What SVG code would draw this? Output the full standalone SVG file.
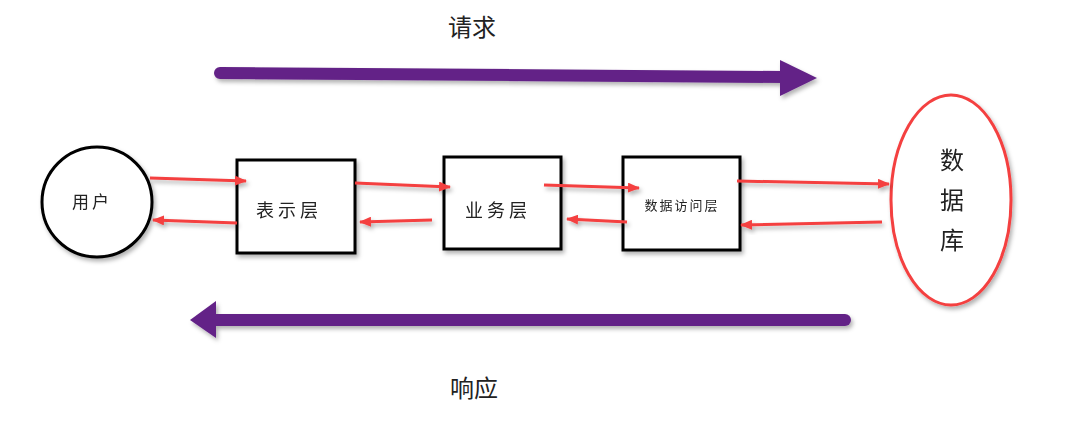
<svg xmlns="http://www.w3.org/2000/svg" width="1076" height="447" viewBox="0 0 1076 447">
<style>
.t{font-family:"Noto Sans CJK SC","Noto Sans",sans-serif;fill:#222;text-anchor:middle}
.box{fill:#fff;stroke:#000;stroke-width:3}
.red{stroke:#f44040;stroke-width:3;fill:none;marker-end:url(#rh)}
.pl{stroke:#632287;stroke-width:12;stroke-linecap:round;fill:none}
</style>
<defs>
<filter id="sh" x="-20%" y="-20%" width="140%" height="140%">
<feDropShadow dx="2" dy="3" stdDeviation="2" flood-color="#000" flood-opacity="0.3"/>
</filter>
<marker id="rh" markerWidth="12" markerHeight="10" refX="11" refY="5" orient="auto" markerUnits="userSpaceOnUse">
<path d="M0,0 L12,5 L0,10 z" fill="#f44040"/>
</marker>
</defs>
<rect width="1076" height="447" fill="#fff"/>
<text class="t" x="472" y="36" font-size="24">请求</text>
<text class="t" x="474" y="397" font-size="24">响应</text>
<g id="arrow-request" filter="url(#sh)">
<path class="pl" d="M220,73 L785,77"/>
<path d="M780,60 L817,78 L780,96 z" fill="#632287"/>
</g>
<g id="arrow-response" filter="url(#sh)">
<path class="pl" d="M845,320 L212,320"/>
<path d="M216,301 L190,320 L216,338 z" fill="#632287"/>
</g>
<g id="user" filter="url(#sh)">
<circle cx="97" cy="202" r="55" fill="#fff" stroke="#000" stroke-width="3"/>
<text class="t" x="92" y="208" font-size="17" letter-spacing="3">用户</text>
</g>
<g id="presentation" filter="url(#sh)">
<rect class="box" x="237" y="160" width="118" height="93"/>
<text class="t" x="289" y="217" font-size="18" letter-spacing="4">表示层</text>
</g>
<g id="business" filter="url(#sh)">
<rect class="box" x="444" y="157" width="117" height="92"/>
<text class="t" x="498" y="217" font-size="18" letter-spacing="4">业务层</text>
</g>
<g id="dal" filter="url(#sh)">
<rect class="box" x="623" y="157" width="117" height="93"/>
<text class="t" x="682" y="210" font-size="13" letter-spacing="2">数据访问层</text>
</g>
<g id="database" filter="url(#sh)">
<ellipse cx="951" cy="200" rx="60" ry="105" fill="#fff" stroke="#f44040" stroke-width="3"/>
<text class="t" x="952" y="169" font-size="24">数</text>
<text class="t" x="952" y="209" font-size="24">据</text>
<text class="t" x="952" y="249" font-size="24">库</text>
</g>
<g id="connectors" filter="url(#sh)">
<path class="red" d="M150,178 L246,181"/>
<path class="red" d="M237,223 L153,220"/>
<path class="red" d="M355,183 L450,187"/>
<path class="red" d="M432,220 L360,222"/>
<path class="red" d="M544,185 L639,188"/>
<path class="red" d="M627,222 L567,219"/>
<path class="red" d="M737,181 L889,184"/>
<path class="red" d="M882,222 L741,225"/>
</g>
</svg>
